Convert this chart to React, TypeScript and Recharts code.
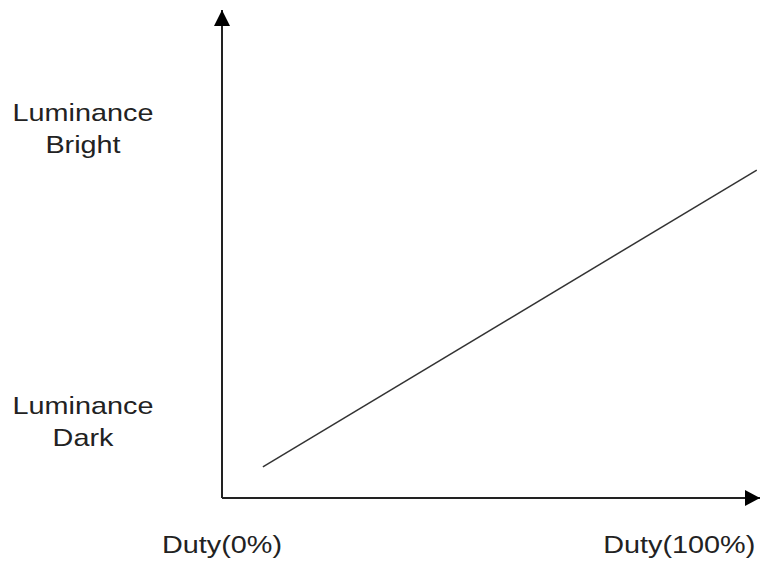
import React from 'react';
import { LineChart, Line, XAxis, YAxis, ReferenceDot } from 'recharts';

// duty (%) vs luminance (relative units)
const duty = [7.6, 99.4];
const luminance = [6.4, 67.2];

const yTicks = [14, 74];
const yTickLabels = [['Luminance', 'Dark'], ['Luminance', 'Bright']];
const xTicks = [0, 85];
const xTickLabels = ['Duty(0%)', 'Duty(100%)'];

const data = duty.map((d, i) => ({ duty: d, lum: luminance[i] }));

const INK = '#222';
const FONT = '"Liberation Sans", Arial, sans-serif';

const YTick = (props: any) => {
  const { y, payload } = props;
  const idx = yTicks.indexOf(payload.value);
  const lines = yTickLabels[idx] || [];
  return (
    <g transform={`translate(83,${y}) scale(1.2,1)`}>
      {lines.map((t, i) => (
        <text key={i} x={0} y={i === 0 ? -16 : 16} textAnchor="middle" fontSize={24} fontFamily={FONT} fill={INK}>
          {t}
        </text>
      ))}
    </g>
  );
};

const XTick = (props: any) => {
  const { x, y, payload } = props;
  const idx = xTicks.indexOf(payload.value);
  return (
    <g transform={`translate(${x},${y + 47}) scale(1.2,1)`}>
      <text x={0} y={0} textAnchor="middle" fontSize={24} fontFamily={FONT} fill={INK}>
        {xTickLabels[idx]}
      </text>
    </g>
  );
};

const UpArrow = (props: any) => {
  const { cx, cy } = props;
  return <path d={`M${cx},${cy} L${cx - 8},${cy + 16} L${cx + 8},${cy + 16} Z`} fill="#000" />;
};

const RightArrow = (props: any) => {
  const { cx, cy } = props;
  return <path d={`M${cx},${cy} L${cx - 15},${cy - 8} L${cx - 15},${cy + 8} Z`} fill="#000" />;
};

export default function App() {
  return (
    <div style={{ position: 'absolute', left: 0, top: 0, background: '#fff' }}>
      <LineChart width={763} height={563} data={data} margin={{ top: 10, right: 3, bottom: 0, left: 0 }}>
        <XAxis
          dataKey="duty"
          type="number"
          domain={[0, 100]}
          ticks={xTicks}
          tick={<XTick />}
          tickLine={false}
          axisLine={{ stroke: INK, strokeWidth: 2 }}
          height={65}
          interval={0}
        />
        <YAxis
          type="number"
          domain={[0, 100]}
          ticks={yTicks}
          tick={<YTick />}
          tickLine={false}
          axisLine={{ stroke: INK, strokeWidth: 2 }}
          width={222}
          interval={0}
        />
        <Line
          dataKey="lum"
          stroke="#333"
          strokeWidth={1.5}
          dot={false}
          isAnimationActive={false}
        />
        <ReferenceDot x={0} y={100} ifOverflow="visible" shape={<UpArrow />} />
        <ReferenceDot x={100} y={0} ifOverflow="visible" shape={<RightArrow />} />
      </LineChart>
    </div>
  );
}
